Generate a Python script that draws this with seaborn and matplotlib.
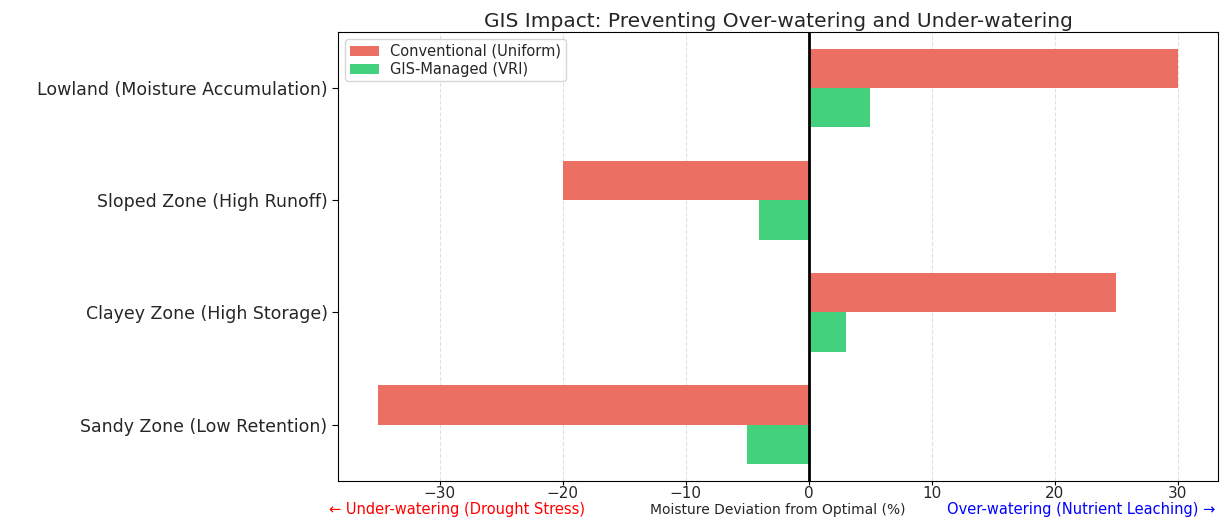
import pandas as pd
import matplotlib
matplotlib.use('Agg')
import matplotlib.pyplot as plt
import seaborn as sns

# Данные
zones = ['Lowland (Moisture Accumulation)', 'Sloped Zone (High Runoff)',
         'Clayey Zone (High Storage)', 'Sandy Zone (Low Retention)']
conventional = [30, -20, 25, -35]
gis_managed = [5, -4, 3, -5]
methods = ['Conventional (Uniform)', 'GIS-Managed (VRI)']

df = pd.DataFrame({
    'Zone': zones * 2,
    'Deviation': conventional + gis_managed,
    'Method': [methods[0]] * 4 + [methods[1]] * 4,
})

sns.set_style('white')
plt.rcParams['font.family'] = ['DejaVu Sans']

fig, ax = plt.subplots(figsize=(12.29, 5.19), dpi=100)
sns.barplot(data=df, y='Zone', x='Deviation', hue='Method', order=zones,
            hue_order=methods, palette=['#EB7063', '#44D17E'],
            orient='h', width=0.7, saturation=1, linewidth=0, ax=ax)

ax.axvline(0, color='black', linewidth=2)
ax.grid(True, axis='x', linestyle='--', alpha=0.6)
ax.set_axisbelow(True)
ax.set_xlim(-38.25, 33.25)
ax.set_ylabel('')
ax.set_xlabel('Moisture Deviation from Optimal (%)', fontsize=10)
ax.xaxis.set_label_coords(0.5, -0.05)
ax.set_title('GIS Impact: Preventing Over-watering and Under-watering', fontsize=14.5, pad=4)
ax.tick_params(axis='y', labelsize=12.5, length=4, left=True, color='black')
ax.tick_params(axis='x', labelsize=11, length=3, bottom=True, color='black', pad=1)
for s in ax.spines.values():
    s.set_color('black')

ax.legend(loc='upper left', fontsize=10.5, title=None, frameon=True,
          borderpad=0.3, labelspacing=0.2)

ax.text(0.135, -0.064, '\u2190 Under-watering (Drought Stress)', transform=ax.transAxes,
        ha='center', va='center', color='red', fontsize=10.5)
ax.text(0.845, -0.064, 'Over-watering (Nutrient Leaching) \u2192', transform=ax.transAxes,
        ha='center', va='center', color='blue', fontsize=10.5)

plt.subplots_adjust(left=0.275, right=0.991, top=0.938, bottom=0.074)
plt.savefig('out.png', dpi=100)
